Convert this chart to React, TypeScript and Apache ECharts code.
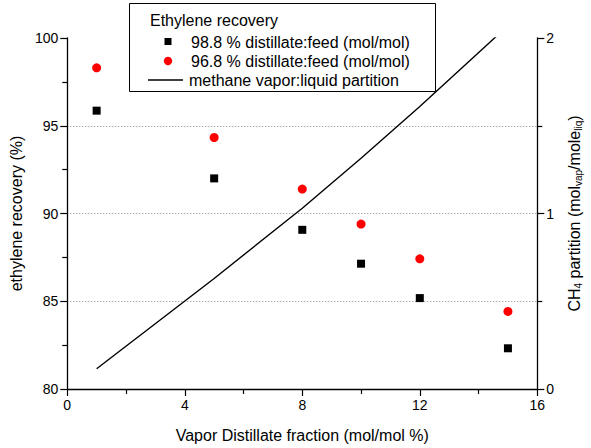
import React, { useEffect, useRef } from "react";
import * as echarts from "echarts";

// Vapor distillate fraction (mol/mol %)
const fractions = [1, 5, 8, 10, 12, 15];
// Ethylene recovery (%) at 98.8 % distillate:feed
const recovery988 = [95.86, 92.0, 89.07, 87.14, 85.18, 82.32];
// Ethylene recovery (%) at 96.8 % distillate:feed
const recovery968 = [98.3, 94.33, 91.39, 89.4, 87.42, 84.42];
// Methane vapor:liquid partition (right axis)
const ch4Partition = [0.115, 0.63, 1.03, 1.315, 1.61, 2.07];

const legendTitle = "Ethylene recovery";
const seriesNames = [
  "98.8 % distillate:feed (mol/mol)",
  "96.8 % distillate:feed (mol/mol)",
  "methane vapor:liquid partition",
];

const FONT = "'Liberation Sans', Arial, Helvetica, sans-serif";

export default function App() {
  const ref = useRef<HTMLDivElement>(null);

  useEffect(() => {
    if (!ref.current) return;
    const chart = echarts.init(ref.current, undefined, { renderer: "svg" });

    const pair = (ys: number[]) => fractions.map((x, i) => [x, ys[i]]);

    const legendText = (x: number, y: number, text: string) => ({
      type: "text",
      x,
      y,
      z: 101,
      style: {
        text,
        fontFamily: FONT,
        fontSize: 16,
        fill: "#000",
        verticalAlign: "middle",
        align: "left",
      },
    });

    chart.setOption({
      animation: false,
      backgroundColor: "#fff",
      textStyle: { fontFamily: FONT },
      grid: { left: 67, right: 50, top: 38, bottom: 57, containLabel: false },
      xAxis: {
        type: "value",
        min: 0,
        max: 16,
        interval: 4,
        name: "Vapor Distillate fraction (mol/mol %)",
        nameLocation: "middle",
        nameGap: 38,
        nameTextStyle: { fontSize: 16, color: "#000", fontFamily: FONT },
        axisLine: { show: true, onZero: false, lineStyle: { color: "#000", width: 1.3 } },
        axisTick: { show: true, inside: false, length: 7, lineStyle: { color: "#000", width: 1.2 } },
        minorTick: { show: true, splitNumber: 2, length: 5, lineStyle: { color: "#000", width: 1.2 } },
        axisLabel: { fontSize: 14, color: "#000", margin: 9, fontFamily: FONT },
        splitLine: { show: false },
      },
      yAxis: [
        {
          type: "value",
          min: 80,
          max: 100,
          interval: 5,
          position: "left",
          name: "ethylene recovery (%)",
          nameLocation: "middle",
          nameRotate: 90,
          nameGap: 42,
          nameTextStyle: { fontSize: 16, color: "#000", fontFamily: FONT },
          axisLine: { show: true, lineStyle: { color: "#000", width: 1.3 } },
          axisTick: { show: true, inside: false, length: 7, lineStyle: { color: "#000", width: 1.2 } },
          minorTick: { show: true, splitNumber: 2, length: 5, lineStyle: { color: "#000", width: 1.2 } },
          axisLabel: { fontSize: 14, color: "#000", margin: 9, fontFamily: FONT },
          splitLine: {
            show: true,
            showMinLine: false,
            showMaxLine: false,
            lineStyle: { color: "#888", type: [1, 2], width: 1 },
          },
        },
        {
          type: "value",
          min: 0,
          max: 2,
          interval: 1,
          position: "right",
          name: "CH{sub|4} partition (mol{sub|vap}/mole{sub|liq})",
          nameLocation: "middle",
          nameRotate: 90,
          nameGap: 27,
          nameTextStyle: {
            fontSize: 16,
            color: "#000",
            fontFamily: FONT,
            lineHeight: 18,
            rich: {
              sub: {
                fontSize: 10,
                lineHeight: 7,
                verticalAlign: "bottom",
                color: "#000",
                fontFamily: FONT,
              },
            },
          },
          axisLine: { show: true, lineStyle: { color: "#000", width: 1.3 } },
          axisTick: { show: true, inside: false, length: 7, lineStyle: { color: "#000", width: 1.2 } },
          minorTick: { show: true, splitNumber: 2, length: 5, lineStyle: { color: "#000", width: 1.2 } },
          axisLabel: { fontSize: 14, color: "#000", margin: 9, fontFamily: FONT },
          splitLine: { show: false },
        },
      ],
      series: [
        {
          name: seriesNames[0],
          type: "scatter",
          yAxisIndex: 0,
          symbol: "rect",
          symbolSize: 8,
          itemStyle: { color: "#000", opacity: 1 },
          data: pair(recovery988),
          z: 3,
        },
        {
          name: seriesNames[1],
          type: "scatter",
          yAxisIndex: 0,
          symbol: "circle",
          symbolSize: 9,
          itemStyle: { color: "#ff0000", opacity: 1 },
          data: pair(recovery968),
          z: 3,
        },
        {
          name: seriesNames[2],
          type: "line",
          yAxisIndex: 1,
          showSymbol: false,
          symbol: "none",
          clip: true,
          lineStyle: { color: "#000", width: 1.4 },
          data: pair(ch4Partition),
          z: 2,
        },
      ],
      graphic: [
        {
          type: "rect",
          z: 100,
          shape: { x: 129.5, y: 3.5, width: 306, height: 88 },
          style: { fill: "#fff", stroke: "#000", lineWidth: 1 },
        },
        legendText(150, 20, legendTitle),
        {
          type: "rect",
          z: 101,
          shape: { x: 164.5, y: 38, width: 7, height: 7 },
          style: { fill: "#000" },
        },
        legendText(191, 42, seriesNames[0]),
        {
          type: "circle",
          z: 101,
          shape: { cx: 168, cy: 61, r: 4.2 },
          style: { fill: "#ff0000" },
        },
        legendText(191, 61, seriesNames[1]),
        {
          type: "line",
          z: 101,
          shape: { x1: 148, y1: 80, x2: 183, y2: 80 },
          style: { stroke: "#000", lineWidth: 1.4 },
        },
        legendText(189, 80, seriesNames[2]),
      ],
    });

    return () => chart.dispose();
  }, []);

  return (
    <div
      ref={ref}
      style={{ position: "fixed", left: 0, top: 0, width: 591, height: 448 }}
    />
  );
}
